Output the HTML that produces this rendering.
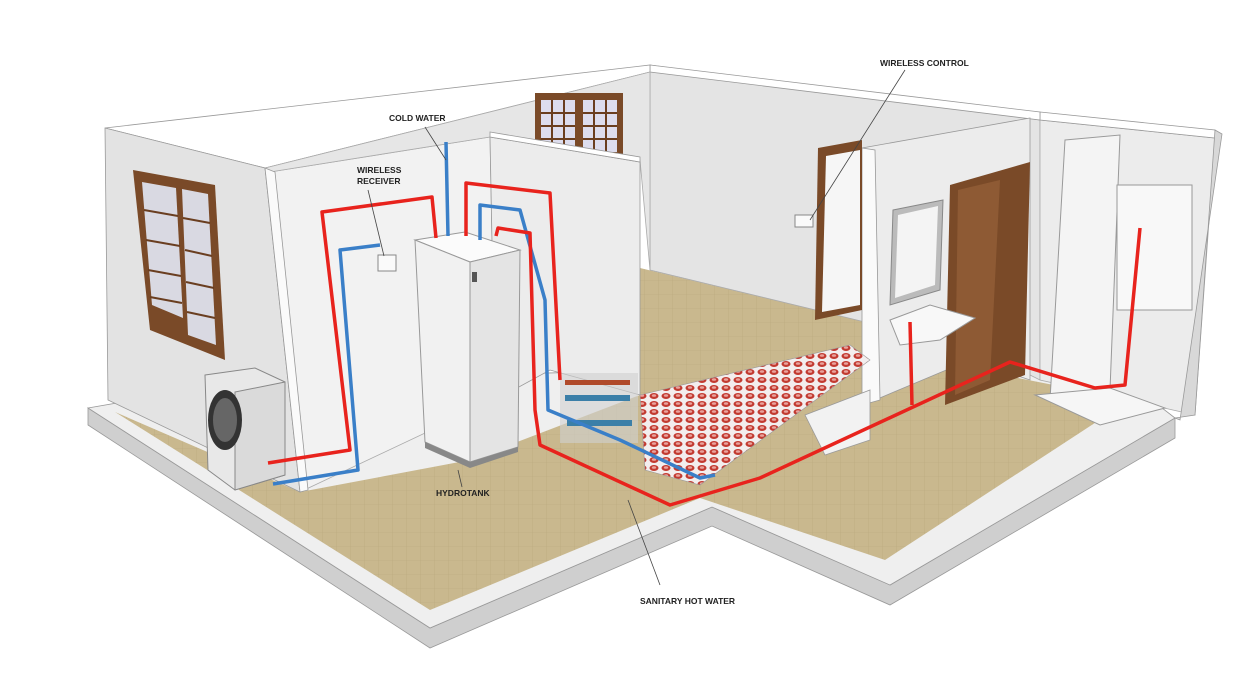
<!DOCTYPE html>
<html><head><meta charset="utf-8"><style>
html,body{margin:0;padding:0;background:#fff;}
svg{display:block}
text{font-family:"Liberation Sans",sans-serif;font-size:8.5px;font-weight:bold;fill:#222}
</style></head><body>
<svg width="1246" height="695" viewBox="0 0 1246 695" xmlns="http://www.w3.org/2000/svg">
<defs>
<pattern id="tile" width="14" height="14" patternUnits="userSpaceOnUse">
<rect width="14" height="14" fill="#c9b88e"/><path d="M0 0H14M0 0V14" stroke="#b9a77c" stroke-width="0.6"/>
</pattern>
<pattern id="heat" width="12" height="8" patternUnits="userSpaceOnUse">
<rect width="12" height="8" fill="#f3eeee"/><ellipse cx="6" cy="4" rx="4.5" ry="3" fill="#c23a30"/><ellipse cx="6" cy="3.5" rx="2.2" ry="1.3" fill="#e9a39d"/>
</pattern>
</defs>
<!-- slab -->
<polygon points="88,408 88,425 430,648 712,526 890,605 1175,438 1175,418 890,585 712,507 430,628" fill="#cfcfcf" stroke="#999" stroke-width="0.8"/>
<polygon points="88,408 250,380 1100,360 1175,418 890,585 712,507 430,628" fill="#efefef" stroke="#999" stroke-width="0.8"/>
<!-- floors -->
<polygon points="115,412 300,492 470,460 640,395 850,345 1130,400 885,560 700,498 430,610" fill="url(#tile)"/>
<polygon points="640,268 865,322 865,400 640,400" fill="url(#tile)"/>
<!-- back walls -->
<polygon points="270,172 490,137 495,400 300,492" fill="#f2f2f2" stroke="#aaa" stroke-width="0.8"/>
<polygon points="650,65 1040,120 1040,380 1010,365 865,322 650,270" fill="#e4e4e4" stroke="#aaa" stroke-width="0.8"/>
<polygon points="1040,120 1215,138 1195,415 1040,380" fill="#ececec" stroke="#aaa" stroke-width="0.8"/>
<polygon points="1040,112 1215,130 1215,138 1040,120" fill="#fff" stroke="#999" stroke-width="0.8"/>
<polygon points="1215,130 1222,134 1180,420 1175,418 1195,415" fill="#d8d8d8" stroke="#999" stroke-width="0.8"/>
<polygon points="650,65 1040,112 1040,120 650,72" fill="#fff" stroke="#999" stroke-width="0.8"/>
<polygon points="105,128 650,65 650,72 265,168" fill="#fff" stroke="#999" stroke-width="0.8"/>
<polygon points="265,168 650,72 650,270 640,160 490,137 270,172" fill="#e6e6e6" stroke="#aaa" stroke-width="0.8"/>
<!-- back window -->
<rect x="535" y="93" width="88" height="62" fill="#7a4a28"/>
<rect x="541" y="100" width="34" height="52" fill="#dde" /><rect x="583" y="100" width="34" height="52" fill="#dde"/>
<path d="M541 113H575M541 126H575M541 139H575M552 100V152M564 100V152M583 113H617M583 126H617M583 139H617M594 100V152M606 100V152" stroke="#6a3e20" stroke-width="2"/>
<!-- left wall -->
<polygon points="105,128 265,168 300,492 108,400" fill="#e3e3e3" stroke="#999" stroke-width="0.8"/>
<polygon points="265,168 275,172 308,490 300,492" fill="#fafafa" stroke="#999" stroke-width="0.8"/>
<polygon points="133,170 215,185 225,360 150,330" fill="#7a4a28"/>
<polygon points="142,182 176,188 183,318 152,305" fill="#d9d9e2"/>
<polygon points="182,189 208,194 216,345 188,335" fill="#d9d9e2"/>
<path d="M144 210L178 216M146 240L180 246M148 270L181 276M150 297L182 303M183 218L210 223M185 250L212 256M186 282L214 288M187 312L215 318" stroke="#6a3e20" stroke-width="2"/>
<!-- partition wall -->
<polygon points="490,137 640,162 640,395 550,370 495,400" fill="#ececec" stroke="#999" stroke-width="0.8"/>
<polygon points="490,132 640,157 640,162 490,137" fill="#fff" stroke="#999" stroke-width="0.8"/>
<!-- bathroom wall -->
<polygon points="862,148 1030,118 1030,380 970,360 875,400" fill="#ececec" stroke="#999" stroke-width="0.8"/>
<polygon points="862,148 875,150 880,400 862,405" fill="#fafafa" stroke="#999" stroke-width="0.8"/>
<!-- doors -->
<polygon points="818,148 862,140 862,310 815,320" fill="#7a4a28"/>
<polygon points="826,156 860,150 860,305 822,312" fill="#f6f6f6"/>
<polygon points="950,185 1030,162 1025,375 945,405" fill="#7a4a28"/>
<polygon points="958,190 1000,180 990,380 955,395" fill="#8e5a34"/>
<!-- mirror, sink -->
<polygon points="893,210 943,200 940,290 890,305" fill="#bbb" stroke="#888"/>
<polygon points="898,215 938,206 935,285 895,298" fill="#f4f4f4"/>
<polygon points="890,320 930,305 975,318 940,340 900,345" fill="#f8f8f8" stroke="#999"/>
<!-- shower -->
<polygon points="1065,140 1120,135 1110,390 1050,400" fill="#f4f4f4" stroke="#999"/>
<rect x="1117" y="185" width="75" height="125" fill="#f8f8f8" stroke="#999"/>
<polygon points="1035,395 1110,388 1165,408 1100,425" fill="#f6f6f6" stroke="#999"/>
<!-- floor heating -->
<polygon points="640,395 850,345 870,360 700,485 645,470" fill="url(#heat)" stroke="#999" stroke-width="0.6"/>
<polygon points="805,415 870,390 870,440 825,455" fill="#f2f2f2" stroke="#999" stroke-width="0.8"/>
<!-- manifold -->
<rect x="560" y="373" width="78" height="70" fill="#d0d0d0" opacity="0.6"/>
<g fill="#3b7fa8"><rect x="565" y="395" width="65" height="6"/><rect x="567" y="420" width="65" height="6"/></g>
<g fill="#b04a2a"><rect x="565" y="380" width="65" height="5"/></g>
<!-- outdoor unit -->
<polygon points="205,375 255,368 285,382 285,475 235,490 208,470" fill="#e8e8e8" stroke="#888"/>
<polygon points="235,392 285,382 285,475 235,490" fill="#dadada" stroke="#888"/>
<ellipse cx="225" cy="420" rx="17" ry="30" fill="#333"/><ellipse cx="225" cy="420" rx="12" ry="22" fill="#666"/>
<!-- hydrotank -->
<polygon points="415,240 465,232 520,250 470,262" fill="#fbfbfb" stroke="#999"/>
<polygon points="415,240 470,262 470,462 425,442" fill="#f1f1f1" stroke="#999"/>
<polygon points="470,262 520,250 518,447 470,462" fill="#e4e4e4" stroke="#999"/>
<polygon points="425,442 470,462 518,447 518,452 470,468 425,448" fill="#888"/>
<rect x="472" y="272" width="5" height="10" fill="#555"/>
<!-- receiver & control -->
<rect x="378" y="255" width="18" height="16" fill="#fafafa" stroke="#888"/>
<rect x="795" y="215" width="18" height="12" fill="#fafafa" stroke="#888"/>
<!-- pipes -->
<g fill="none" stroke-width="3.5" stroke-linejoin="round">
<polyline stroke="#3a7fc8" points="273,484 358,470 340,250 380,245"/>
<polyline stroke="#3a7fc8" points="446,142 448,236"/>
<polyline stroke="#3a7fc8" points="480,240 480,205 520,210 545,300 548,410 620,440 700,478 715,475"/>
<polyline stroke="#e8231d" points="268,463 350,450 322,212 432,197 436,238"/>
<polyline stroke="#e8231d" points="466,236 466,183 550,193 560,380"/>
<polyline stroke="#e8231d" points="496,236 498,228 530,233 535,410 540,445 670,505 760,478 1010,362 1095,388 1125,385 1140,228"/>
<polyline stroke="#e8231d" points="912,405 910,322"/>
</g>
<!-- labels -->
<g stroke="#444" stroke-width="0.8">
<line x1="425" y1="127" x2="446" y2="160"/>
<line x1="368" y1="190" x2="384" y2="256"/>
<line x1="458" y1="470" x2="462" y2="487"/>
<line x1="660" y1="585" x2="628" y2="500"/>
<line x1="905" y1="70" x2="810" y2="220"/>
</g>
<text x="389" y="121">COLD WATER</text>
<text x="357" y="173">WIRELESS</text>
<text x="357" y="184">RECEIVER</text>
<text x="436" y="496">HYDROTANK</text>
<text x="640" y="604">SANITARY HOT WATER</text>
<text x="880" y="66">WIRELESS CONTROL</text>
</svg>
</body></html>
